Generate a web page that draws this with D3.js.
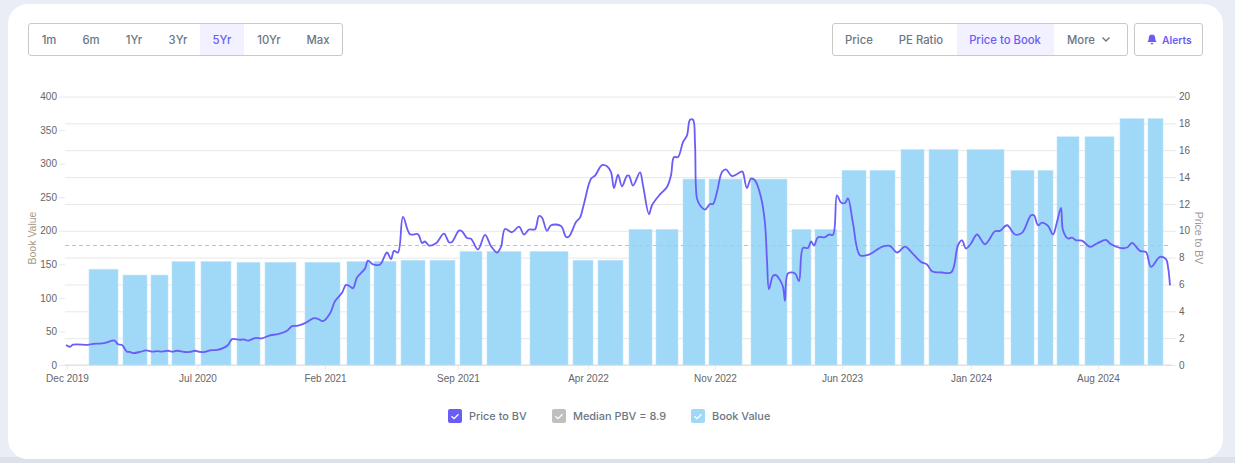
<!DOCTYPE html>
<html><head><meta charset="utf-8">
<script src="https://cdnjs.cloudflare.com/ajax/libs/d3/7.8.5/d3.min.js"></script>
<style>html,body{margin:0;padding:0;background:#e9edf5;overflow:hidden}svg{display:block}</style>
</head><body><svg id="c" width="1235" height="463"></svg>
<script>
// x is a trading-session index
const xTickSessions=[2,132.5,260,393,523,650,777,906,1033];
const xTickLabels=["Dec 2019","Jul 2020","Feb 2021","Sep 2021","Apr 2022","Nov 2022","Jun 2023","Jan 2024","Aug 2024"];
const leftTicks=[0,50,100,150,200,250,300,350,400];
const rightTicks=[0,2,4,6,8,10,12,14,16,18,20];
const medianPBV=8.9;
const barStart=[24,58,86,107,136,172,200,240,282,309,336,365,395,422,465,508,533,564,591,618,644,686,727,750,777,805,836,864,902,946,973,992,1020,1055,1083];
const barEnd=[53,82,103,130,166,195,231,275,305,331,360,390,417,456,503,528,558,587,613,640,677,722,746,772,801,830,859,893,939,969,988,1014,1049,1079,1098];
const barValues=[142.7,134,134,154,154,153,153,153,154,154.5,156,156,169,169,169,156,156,202,202,277,277,277,202,202,290,290,321,321,321,290,290,340,340,367,367];
const lineSessions=[1,5,8,24,28,37,42,47,50,53,57,62,65,68,75,81,88,92,97,103,107,112,120,125,130,135,140,145,152,158,163,167,175,179,183,190,197,205,213,222,227,232,240,249,253,258,265,270,277,281,284,288,292,300,303,308,315,322,326,329,333,338,345,353,357,360,364,371,379,384,387,394,397,402,406,413,420,426,432,436,440,447,454,459,464,470,474,477,482,486,496,501,504,511,515,519,526,530,537,542,546,549,553,557,562,564,568,575,578,584,587,595,602,606,609,613,618,622,625,628,630,632,635,640,645,648,652,657,661,667,677,678,682,686,690,696,700,702,704,708,711,715,718,720,723,730,734,738,743,746,749,753,760,764,768,772,776,780,783,788,795,803,818,825,832,840,847,856,862,867,877,886,889,893,897,901,906,912,920,930,935,942,950,957,966,969,973,977,983,988,992,996,998,1003,1007,1011,1017,1025,1032,1041,1045,1055,1062,1067,1075,1081,1086,1095,1101,1103,1105];
const lineValues=[1.49,1.36,1.51,1.51,1.58,1.61,1.69,1.81,1.81,1.54,1.49,0.99,0.97,0.89,0.97,1.09,0.99,1.04,0.99,1.06,0.99,1.06,0.97,0.97,1.06,0.97,0.97,1.09,1.12,1.26,1.49,1.93,1.88,1.91,1.81,2.01,1.99,2.21,2.30,2.55,2.90,2.92,3.12,3.49,3.44,3.27,3.84,4.76,5.38,5.97,5.90,5.72,6.52,7.19,7.78,7.49,7.49,8.38,7.88,8.50,8.38,11.03,9.74,9.74,9.09,9.20,8.90,9.07,9.79,9.14,9.17,10.01,9.96,9.46,9.41,8.60,9.69,8.85,8.38,8.80,10.13,9.89,10.31,9.72,10.09,10.11,11.10,10.98,9.99,10.41,10.36,9.54,9.57,10.65,10.98,12.02,13.88,14.10,14.89,14.80,14.37,13.18,14.18,13.31,14.10,14.10,13.36,14.35,13.38,11.23,11.90,12.71,13.26,14.13,15.49,15.49,16.60,17.10,18.27,18.27,16.51,12.39,11.90,11.58,11.99,11.99,12.89,14.37,14.57,14.07,14.42,14.35,13.18,13.88,13.75,12.49,10.54,7.81,5.65,6.64,6.69,6.32,5.82,4.78,6.82,6.82,6.25,8.72,8.72,9.20,8.90,9.52,9.52,9.72,9.69,12.64,12.10,12.07,12.42,10.54,8.18,8.20,8.83,8.87,8.38,8.81,8.35,7.68,7.49,6.99,6.89,6.89,7.36,8.92,9.29,8.68,9.05,9.72,9.00,9.96,9.99,10.41,9.72,9.84,11.15,11.15,10.41,10.61,10.36,9.72,10.65,11.70,10.04,9.42,9.49,9.29,9.27,8.80,9.05,9.32,9.05,8.72,8.75,9.09,8.50,8.42,7.31,8.05,7.88,7.31,5.93];
const rangeButtons=["1m","6m","1Yr","3Yr","5Yr","10Yr","Max"];
const metricButtons=["Price","PE Ratio","Price to Book","More"];
const legendLabels=["Price to BV","Median PBV = 8.9","Book Value"];

const PURPLE="#6a5cf7",BAR="#a0d8f7",GREY="#bfbfbf",TXT="#6b7685",SANS="'Liberation Sans',Arial,sans-serif",UI="Inter,sans-serif";
const svg=d3.select("#c");
svg.append("rect").attr("x",0).attr("y",457).attr("width",1235).attr("height",6).attr("fill","#dde1ea");
svg.append("rect").attr("x",8).attr("y",4).attr("width",1215).attr("height",455).attr("rx",20).attr("fill","#fff");

const x=d3.scaleLinear().domain([0,1107]).range([65,1172]);
const yL=d3.scaleLinear().domain([0,400]).range([365,96.5]);
const yR=d3.scaleLinear().domain([0,20]).range([365,96.5]);

// gridlines follow the right axis; the left axis only has short ticks
const axL=svg.append("g").attr("transform","translate(65,0)").call(d3.axisLeft(yL).tickValues(leftTicks).tickSize(6).tickPadding(2));
const axR=svg.append("g").attr("transform","translate(1172,0)").call(d3.axisRight(yR).tickValues(rightTicks).tickSize(4).tickPadding(3));
axR.selectAll(".tick line").attr("x1",-1107);
const axB=svg.append("g").attr("transform","translate(0,365)").call(d3.axisBottom(x).tickValues(xTickSessions).tickFormat((d,i)=>xTickLabels[i]).tickSize(4).tickPadding(6));
[axL,axR,axB].forEach(a=>{a.select(".domain").remove();a.selectAll("line").attr("stroke","#e8e8e8");a.selectAll("text").attr("font-family",SANS).attr("font-size",10).attr("fill","#666");});
svg.append("line").attr("x1",x(0)).attr("x2",x(1107)).attr("y1",365).attr("y2",365).attr("stroke","#ddd");

svg.append("g").selectAll("rect").data(barValues).join("rect")
 .attr("x",(d,i)=>x(barStart[i])).attr("width",(d,i)=>x(barEnd[i])-x(barStart[i]))
 .attr("y",d=>yL(d)).attr("height",d=>yL(0)-yL(d)).attr("fill",BAR).attr("stroke","#bfe5fb").attr("stroke-width",0.6);

svg.append("line").attr("x1",x(0)).attr("x2",x(1105)).attr("y1",yR(medianPBV)).attr("y2",yR(medianPBV))
 .attr("stroke",GREY).attr("stroke-width",1).attr("stroke-dasharray","4,3");

svg.append("path").datum(lineValues).attr("fill","none").attr("stroke",PURPLE).attr("stroke-width",1.8).attr("stroke-linejoin","round")
 .attr("d",d3.line().x((d,i)=>x(lineSessions[i])).y(d=>yR(d)).curve(d3.curveCatmullRom.alpha(0.5)));

svg.append("text").attr("transform","translate(36,238) rotate(-90)").attr("text-anchor","middle").attr("font-family",SANS).attr("font-size",10.5).attr("fill","#a89a85").text("Book Value");
svg.append("text").attr("transform","translate(1195,238) rotate(90)").attr("text-anchor","middle").attr("font-family",SANS).attr("font-size",10.5).attr("fill","#9a9a9a").text("Price to BV");

// button groups
function box(x0,x1){svg.append("rect").attr("x",x0).attr("y",23.5).attr("width",x1-x0).attr("height",32).attr("rx",2.5).attr("fill","#fff").attr("stroke","#c9c9c9");}
function label(t,cx,col,anchor,size,w){return svg.append("text").attr("x",cx).attr("y",43.5).attr("text-anchor",anchor||"middle").attr("font-family",UI).attr("font-size",size||11.3).attr("font-weight",w||500).attr("fill",col).text(t);}
box(28.5,342.5);
svg.append("rect").attr("x",200).attr("y",24).attr("width",44).attr("height",31).attr("fill","#f2f1ff");
const rangeCenters=d3.scaleOrdinal().domain(rangeButtons).range([49,91,134,178,222,269,318]);
rangeButtons.forEach(t=>label(t,rangeCenters(t),t==="5Yr"?PURPLE:TXT));
box(832.5,1127.5);
svg.append("rect").attr("x",957).attr("y",24).attr("width",97).attr("height",31).attr("fill","#f2f1ff");
const metricCenters=d3.scaleOrdinal().domain(metricButtons).range([859,921,1005,1081]);
metricButtons.forEach(t=>label(t,metricCenters(t),t==="Price to Book"?PURPLE:TXT));
svg.append("path").attr("d","M1102.5 37.5l3.5 3.5 3.5-3.5").attr("fill","none").attr("stroke",TXT).attr("stroke-width",1.4);
box(1134.5,1202.5);
svg.append("path").attr("d","M1152 34.5c-2.5 0-3.3 2-3.3 4 0 2-.8 2.6-1.5 3.6h9.6c-.7-1-1.5-1.6-1.5-3.6 0-2-.8-4-3.3-4zM1150.6 43h2.8a1.4 1.4 0 0 1-2.8 0z").attr("fill",PURPLE);
label("Alerts",1162,PURPLE,"start",10.3,600);

// legend
const legendBoxX=[448,552,691],legendTextX=[469,573,712],legendColors=[PURPLE,GREY,BAR];
legendLabels.forEach((t,i)=>{
 svg.append("rect").attr("x",legendBoxX[i]).attr("y",409).attr("width",14).attr("height",14).attr("rx",2).attr("fill",legendColors[i]);
 svg.append("path").attr("d",`M${legendBoxX[i]+3.5} 416.2l2.5 2.4 4.5-4.4`).attr("fill","none").attr("stroke","#fff").attr("stroke-width",1.3);
 svg.append("text").attr("x",legendTextX[i]).attr("y",420).attr("font-family",UI).attr("font-size",10.9).attr("font-weight",500).attr("fill",TXT).text(t);
});
</script></body></html>
